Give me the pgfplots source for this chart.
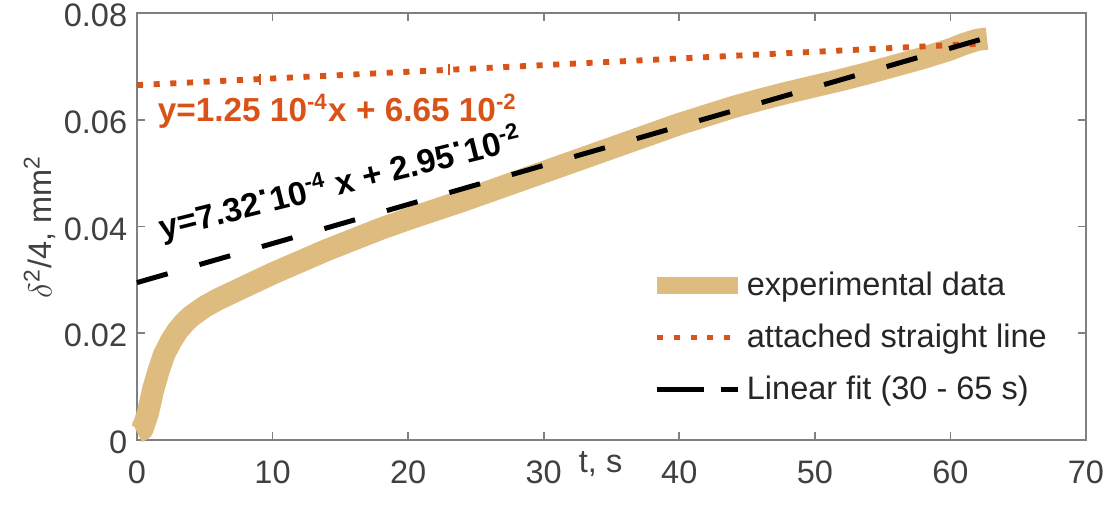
\documentclass[border=0pt]{standalone}
\usepackage{fontspec}
\setmainfont{Liberation Sans}
\usepackage{pgfplots}
\pgfplotsset{compat=1.18}
\definecolor{expcol}{RGB}{222,188,128}
\definecolor{fitorange}{RGB}{217,83,25}
\definecolor{axgray}{RGB}{128,128,128}
\definecolor{lblgray}{RGB}{64,64,64}
\begin{document}
\begin{tikzpicture}
\useasboundingbox (-49.3pt,-23.4pt) rectangle (350.6pt,158.4pt);
\begin{axis}[
  at={(0,0)}, anchor=south west,
  scale only axis, width=341.6pt, height=153.7pt,
  xmin=0, xmax=70, ymin=0, ymax=0.08,
  scaled x ticks=false, scaled y ticks=false,
  xtick={0,10,...,70}, ytick={0,0.02,0.04,0.06,0.08},
  xticklabels={0,10,20,30,40,50,60,70},
  yticklabels={0,0.02,0.04,0.06,0.08},
  tick align=inside, major tick length=3pt,
  axis line style={axgray, line width=0.6pt},
  tick style={axgray, line width=0.6pt},
  ticklabel style={font=\fontsize{11.7}{14}\selectfont, text=lblgray},
  xticklabel style={yshift=-4pt},
  yticklabel style={yshift=-0.9pt},
  clip=false,
  legend cell align=left,
  legend image code/.code={\draw[#1] (0pt,0pt) -- (29pt,0pt);},
  legend style={draw=none, fill=none, at={(0.530,0.240)}, anchor=west,
    font=\fontsize{11.7}{14}\selectfont, text=black!85, row sep=8.2pt,
    nodes={inner sep=0.3pt}},
]
\addlegendimage{expcol, line width=6pt}
\addlegendentry{experimental data}
\addlegendimage{fitorange, line width=2.1pt, dash pattern=on 2.2pt off 3.8pt}
\addlegendentry{attached straight line}
\addlegendimage{black, line width=1.8pt, dash pattern=on 17pt off 6pt}
\addlegendentry{Linear fit (30 - 65 s)}

\addplot[forget plot, expcol, line width=8pt, line join=round] coordinates {
(0,0.0015) (0.4,0.002) (0.8,0.005) (1.2,0.0095) (1.6,0.013) (2.0,0.016)
(2.5,0.0185) (3,0.0205) (3.5,0.022) (4,0.0232) (5,0.0250) (6,0.0264)
(7,0.0276) (8,0.0288) (9,0.0300) (10,0.0312) (12,0.0334) (14,0.0356)
(16,0.0376) (18,0.0396) (20,0.0414) (22,0.0431) (24,0.0448) (26,0.0466)
(28,0.0484) (30,0.0502) (32,0.0520) (34,0.0538) (36,0.0556) (38,0.0574)
(40,0.0592) (42,0.0608) (44,0.0624) (46,0.0638) (48,0.0651) (50,0.0663)
(52,0.0675) (54,0.0688) (56,0.0702) (58,0.0716) (60,0.0732) (61,0.0742)
(62,0.0750) (62.7,0.0752)};
\addplot[forget plot, fitorange, line width=2.1pt, dash pattern=on 2.2pt off 3.8pt] coordinates {(0,0.0665) (62.5,0.0743)};
\addplot[forget plot, only marks, fitorange, mark=|, mark size=2pt, mark options={line width=0.6pt}] coordinates {(9.07,0.06763) (23.0,0.06938)};
\addplot[forget plot, black, line width=1.8pt, dash pattern=on 11.5pt off 11.9pt] coordinates {(0,0.0295) (62.3,0.0751)};

\node[anchor=base west, text=fitorange, font=\bfseries\fontsize{12}{14}\selectfont, inner sep=0pt] at (axis cs:1.5,0.0596) {y=1.25 10\textsuperscript{-4}x + 6.65 10\textsuperscript{-2}};
\node[anchor=base west, rotate=14, font=\bfseries\fontsize{12}{14}\selectfont, inner sep=0pt] at (axis cs:1.85,0.0376) {y=7.32\raisebox{0.3em}{·}10\textsuperscript{-4} x + 2.95\raisebox{0.3em}{·}10\textsuperscript{-2}};

\node[font=\fontsize{11.7}{14}\selectfont, text=lblgray] at (axis cs:34.2,0) [yshift=-8.5pt] {t, s};
\node[font=\fontsize{11.7}{14}\selectfont, text=lblgray, xshift=-35pt, rotate=90] at (axis cs:0,0.04) {$\delta$\textsuperscript{2}/4, mm\textsuperscript{2}};
\end{axis}
\end{tikzpicture}
\end{document}
